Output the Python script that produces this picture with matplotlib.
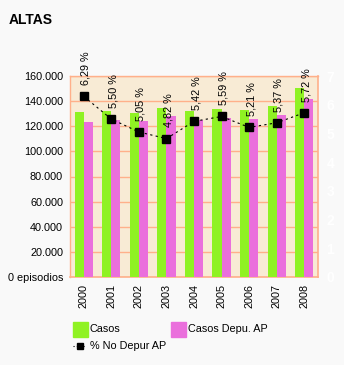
import matplotlib
matplotlib.use("Agg")
import matplotlib.pyplot as plt
from matplotlib.patches import Rectangle
from matplotlib.lines import Line2D
import numpy as np

plt.rcParams['font.family'] = ['Liberation Sans', 'DejaVu Sans']

years = ["2000", "2001", "2002", "2003", "2004", "2005", "2006", "2007", "2008"]
casos = [131400, 132200, 130600, 134600, 132200, 133800, 133000, 136200, 150600]
casos_depu = [123400, 124800, 124200, 128200, 125000, 126400, 125800, 129000, 141800]
pct_no_depur = [6.29, 5.50, 5.05, 4.82, 5.42, 5.59, 5.21, 5.37, 5.72]
left_ticks = [0, 20000, 40000, 60000, 80000, 100000, 120000, 140000, 160000]
left_labels = ["0 episodios", "20.000", "40.000", "60.000", "80.000",
               "100.000", "120.000", "140.000", "160.000"]
right_ticks = [0, 1, 2, 3, 4, 5, 6, 7]

W, H = 344, 365
fig = plt.figure(figsize=(W / 100, H / 100), dpi=100)
fig.patch.set_facecolor("#F9F9F9")

GREEN = "#8FF223"
PINK = "#EA6FDC"
BEIGE = "#F8EBD5"
GRID = "#FFB08A"

def fx(px):
    return px / W

def fy(py):
    return 1 - py / H

ax = fig.add_axes([fx(70), fy(277), fx(318) - fx(70), fy(76) - fy(277)])
ax.set_facecolor(BEIGE)
x = np.arange(len(years))
bw = 0.33
ax.bar(x - bw / 2, casos, bw, color=GREEN, zorder=3)
ax.bar(x + bw / 2, casos_depu, bw, color=PINK, zorder=3)
ax.set_xlim(-0.5, len(years) - 0.5)
ax.set_ylim(0, 160000)
ax.set_yticks(left_ticks)
ax.set_yticklabels(left_labels, fontsize=7.8)
ax.set_xticks(x)
ax.set_xticklabels(years, rotation=90, fontsize=7.8)
ax.tick_params(axis='both', length=0, pad=5)
ax.grid(axis='y', color=GRID, linewidth=1, zorder=1)
ax.set_axisbelow(True)
for s in ['left', 'top']:
    ax.spines[s].set_color(GRID)
    ax.spines[s].set_linewidth(1)
for s in ['right', 'bottom']:
    ax.spines[s].set_color(GRID)
    ax.spines[s].set_linewidth(1.2)
    ax.spines[s].set_linestyle((0, (2, 1)))

ax2 = ax.twinx()
ax2.set_ylim(0, 7)
ax2.set_yticks(right_ticks)
ax2.set_yticklabels([str(t) for t in right_ticks], fontsize=10, color="white",
                    fontweight='bold')
ax2.tick_params(axis='y', length=0, pad=6)
for s in ax2.spines.values():
    s.set_visible(False)
ax2.plot(x, pct_no_depur, color="black", linewidth=0.8, linestyle=(0, (2, 3)),
         marker='s', markersize=5.5, zorder=5)
for xi, v in zip(x, pct_no_depur):
    ax2.annotate(("%.2f" % v).replace(".", ",") + " %", (xi, v),
                 xytext=(1.5, 8), textcoords='offset points', rotation=90,
                 ha='center', va='bottom', fontsize=7.8, annotation_clip=False)

fig.text(fx(9), fy(24), "ALTAS", fontsize=10, fontweight='bold',
         ha='left', va='baseline')

# legend
fig.add_artist(Rectangle((fx(73), fy(337)), fx(15), fy(322) - fy(337),
                         transform=fig.transFigure, color=GREEN))
fig.text(fx(89.5), fy(329.5), "Casos", fontsize=7.8, va='center', ha='left')
fig.add_artist(Rectangle((fx(171), fy(337)), fx(15), fy(322) - fy(337),
                         transform=fig.transFigure, color=PINK))
fig.text(fx(188), fy(329.5), "Casos Depu. AP", fontsize=7.8, va='center', ha='left')
fig.add_artist(Line2D([fx(73), fx(85)], [fy(346), fy(346)], transform=fig.transFigure,
                      color='black', linewidth=0.8, linestyle=(0, (1, 2))))
fig.add_artist(Line2D([fx(80)], [fy(346)], transform=fig.transFigure,
                      color='black', marker='s', markersize=5))
fig.text(fx(89.5), fy(346), "% No Depur AP", fontsize=7.8, va='center', ha='left')

fig.savefig("out.png", dpi=100, facecolor=fig.get_facecolor())
